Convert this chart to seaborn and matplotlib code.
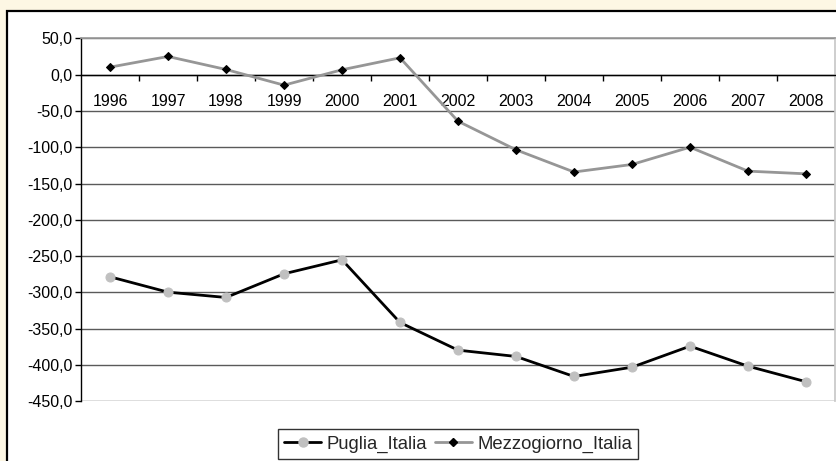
import matplotlib
matplotlib.use("Agg")
import matplotlib.pyplot as plt
import matplotlib.patches as mpatches
from matplotlib.ticker import FuncFormatter, FixedLocator, MultipleLocator
from matplotlib.lines import Line2D
import seaborn as sns
import pandas as pd

years = ["1996", "1997", "1998", "1999", "2000", "2001", "2002",
         "2003", "2004", "2005", "2006", "2007", "2008"]
puglia_italia = [-278.4, -299.6, -306.9, -274.3, -255.0, -341.4, -379.5,
                 -388.2, -415.8, -403.0, -374.0, -401.6, -423.0]
mezzogiorno_italia = [10.5, 25.2, 7.3, -14.3, 6.9, 23.4, -64.0,
                      -103.4, -134.0, -123.6, -99.8, -132.8, -136.5]
series_names = ["Puglia_Italia", "Mezzogiorno_Italia"]

sns.set_theme(style="white")
plt.rcParams["font.family"] = ["Liberation Sans", "DejaVu Sans"]

df = pd.DataFrame({
    "year": years * 2,
    "value": puglia_italia + mezzogiorno_italia,
    "series": [series_names[0]] * len(years) + [series_names[1]] * len(years),
})

cream = "#FDF7E4"
fig = plt.figure(figsize=(8.36, 4.61), dpi=100, facecolor=cream)
# white chart area with black border (right/bottom cut off)
border = mpatches.Rectangle((7 / 836, -0.2), 1.2, 1 - 11 / 461 + 0.2,
                            transform=fig.transFigure, facecolor="white",
                            edgecolor="black", lw=1.6, zorder=-5)
fig.add_artist(border)

ax = fig.add_axes([81 / 836, 1 - 401.3 / 461, (835 - 81) / 836, (401.3 - 38.5) / 461])
ax.set_zorder(1)
ax.set_facecolor("white")

sns.lineplot(data=df[df.series == series_names[0]], x="year", y="value", ax=ax,
             color="black", lw=2, marker="o", markersize=6.5,
             markerfacecolor="#C0C0C0", markeredgecolor="#C0C0C0", zorder=4,
             label=series_names[0], legend=False)
sns.lineplot(data=df[df.series == series_names[1]], x="year", y="value", ax=ax,
             color="#969696", lw=2, marker="D", markersize=4,
             markerfacecolor="black", markeredgecolor="black", zorder=4,
             label=series_names[1], legend=False)

ax.set_xlim(-0.5, len(years) - 0.5)
ax.set_ylim(-450, 50)
ax.yaxis.set_major_locator(MultipleLocator(50))
ax.yaxis.set_major_formatter(FuncFormatter(lambda v, p: f"{v:.1f}".replace(".", ",")))
ax.grid(axis="y", color="#5a5a5a", lw=1)
ax.grid(axis="x", visible=False)
ax.set_axisbelow(True)
fig.canvas.draw()
glines = ax.get_ygridlines()
if len(glines):
    glines[0].set_color("#a8a8a8")
    glines[-1].set_color("#8a8a8a")

ax.spines["bottom"].set_position(("data", 0))
ax.spines["bottom"].set_color("black")
ax.spines["bottom"].set_linewidth(1)
ax.spines["left"].set_color("black")
ax.spines["left"].set_linewidth(1)
ax.spines["top"].set_color("#9a9a9a")
ax.spines["right"].set_color("#c8c8c8")

ax.set_xticks(range(len(years)))
ax.set_xticklabels(years)
ax.xaxis.set_minor_locator(FixedLocator([i + 0.5 for i in range(len(years) - 1)]))
ax.tick_params(axis="x", which="major", length=0, pad=14, labelsize=11.5, colors="black")
ax.tick_params(axis="x", which="minor", length=4, width=1, direction="out",
               bottom=True, color="black")
ax.tick_params(axis="y", length=4, width=1, direction="out", left=True,
               labelsize=11.5, colors="black", pad=2)
ax.set_xlabel("")
ax.set_ylabel("")

handles = [
    Line2D([], [], color="black", lw=2, marker="o", markersize=6.5,
           markerfacecolor="#C0C0C0", markeredgecolor="#C0C0C0"),
    Line2D([], [], color="#969696", lw=2, marker="D", markersize=4,
           markerfacecolor="black", markeredgecolor="black"),
]
leg = fig.legend(handles, series_names, loc="upper center",
                 bbox_to_anchor=(0.548, 1 - 429 / 461), ncol=2, fontsize=13.3,
                 frameon=True, fancybox=False, edgecolor="black",
                 handlelength=2.0, handletextpad=0.3, columnspacing=0.4,
                 borderpad=0.35, borderaxespad=0)
leg.get_frame().set_linewidth(1)
leg.get_frame().set_facecolor("white")
leg.set_zorder(5)

fig.savefig("out.png", dpi=100, facecolor=cream)
